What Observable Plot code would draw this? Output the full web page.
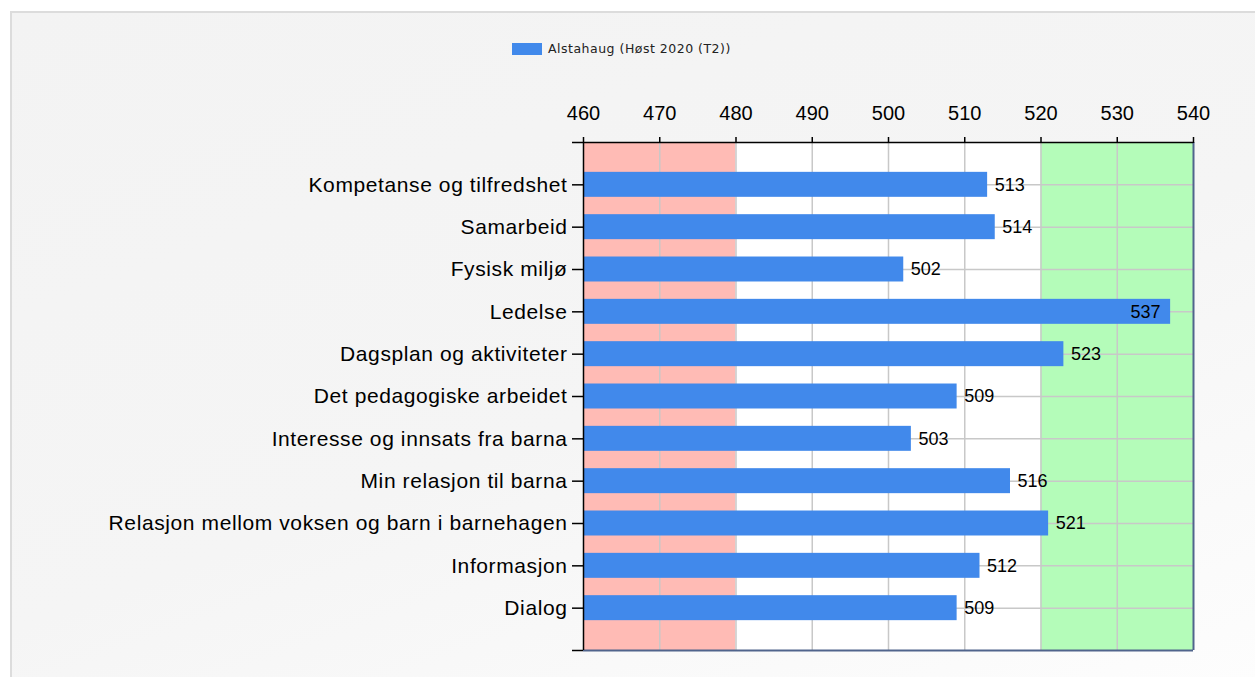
<!DOCTYPE html>
<html>
<head>
<meta charset="utf-8">
<script src="https://cdn.jsdelivr.net/npm/d3@7"></script>
<script src="https://cdn.jsdelivr.net/npm/@observablehq/plot@0.6"></script>
<style>
  html, body { margin: 0; padding: 0; background: #ffffff; overflow: hidden; }
  body { width: 1255px; height: 677px; position: relative; font-family: "Liberation Sans", Arial, sans-serif; }
  #panel { position: absolute; left: 10px; top: 11px; right: -5px; bottom: -5px;
    border-left: 2px solid #dcdcdc; border-top: 2px solid #dcdcdc;
    background: linear-gradient(160deg, #f3f3f3 0%, #f5f5f5 55%, #fdfdfd 100%); }
  #legend { position: absolute; left: 512px; top: 41px; display: flex; align-items: center;
    font-family: "DejaVu Sans", sans-serif; font-size: 12.5px; letter-spacing: 0.5px; color: #222; }
  #legend .sw { width: 30px; height: 12px; background: #4189eb; margin-right: 6px; }
  #chart { position: absolute; left: 0; top: 80px; }
  #chart svg [aria-label="y-axis tick label"] text { letter-spacing: 0.6px; }
</style>
</head>
<body>
<div id="panel"></div>
<div id="legend"></div>
<div id="chart"></div>
<script>
const seriesName = "Alstahaug (Høst 2020 (T2))";
const categories = [
  "Kompetanse og tilfredshet",
  "Samarbeid",
  "Fysisk miljø",
  "Ledelse",
  "Dagsplan og aktiviteter",
  "Det pedagogiske arbeidet",
  "Interesse og innsats fra barna",
  "Min relasjon til barna",
  "Relasjon mellom voksen og barn i barnehagen",
  "Informasjon",
  "Dialog"
];
const values = [513, 514, 502, 537, 523, 509, 503, 516, 521, 512, 509];
const xTicks = [460, 470, 480, 490, 500, 510, 520, 530, 540];
const zoneFrom = [460, 480, 520];
const zoneTo = [480, 520, 540];
const zoneColors = ["#ffbbb5", "#ffffff", "#b4fcb9"];

const barColor = "#4189eb";
const gridColor = "#c8c8c8";
const frameColor = "#50648c";

const data = categories.map((c, i) => ({category: c, pos: i + 1, value: values[i]}));
const zones = zoneFrom.map((f, i) => ({from: f, to: zoneTo[i], color: zoneColors[i]}));
const yTicks = d3.range(0, categories.length + 2);
const xMin = xTicks[0], xMax = xTicks[xTicks.length - 1];

// legend
const lg = document.getElementById("legend");
lg.innerHTML = `<div class="sw"></div><span></span>`;
lg.querySelector("span").textContent = seriesName;

const chart = Plot.plot({
  width: 1255,
  height: 597,
  marginLeft: 583,
  marginRight: 62,
  marginTop: 62,
  marginBottom: 27,
  style: {background: "transparent", color: "#000", fontFamily: "Liberation Sans, Arial, sans-serif", overflow: "visible"},
  x: {domain: [xMin, xMax]},
  y: {domain: [0, categories.length + 1], reverse: true},
  marks: [
    Plot.rect(zones, {x1: "from", x2: "to", fill: "color"}),
    Plot.ruleX(xTicks.slice(1, -1), {stroke: gridColor, strokeWidth: 1.5}),
    Plot.ruleY(data, {y: "pos", stroke: gridColor, strokeWidth: 1.5}),
    Plot.rect(data, {x1: xMin, x2: "value", y1: d => d.pos - 0.295, y2: d => d.pos + 0.295, fill: barColor}),
    Plot.text(data.filter(d => d.value <= 535), {x: "value", y: "pos", text: d => String(d.value), textAnchor: "start", dx: 7, fontSize: 18, fill: "#000"}),
    Plot.text(data.filter(d => d.value > 535), {x: "value", y: "pos", text: d => String(d.value), textAnchor: "end", dx: -10, fontSize: 18, fill: "#000"}),
    Plot.ruleX([xMax], {stroke: frameColor, strokeWidth: 2}),
    Plot.ruleY([categories.length + 1], {stroke: frameColor, strokeWidth: 2}),
    Plot.ruleX([xMin], {stroke: "#000", strokeWidth: 1.5}),
    Plot.ruleY([0], {stroke: "#000", strokeWidth: 1.5}),
    Plot.axisX({anchor: "top", ticks: xTicks, tickSize: 6, tickPadding: 17, fontSize: 20, label: null, tickFormat: d => String(d), strokeWidth: 1.5}),
    Plot.axisY({ticks: yTicks, tickSize: 11, tickPadding: 5, fontSize: 21, label: null, tickFormat: i => categories[i - 1] ?? "", strokeWidth: 1.5})
  ]
});
document.getElementById("chart").appendChild(chart);
</script>
</body>
</html>
